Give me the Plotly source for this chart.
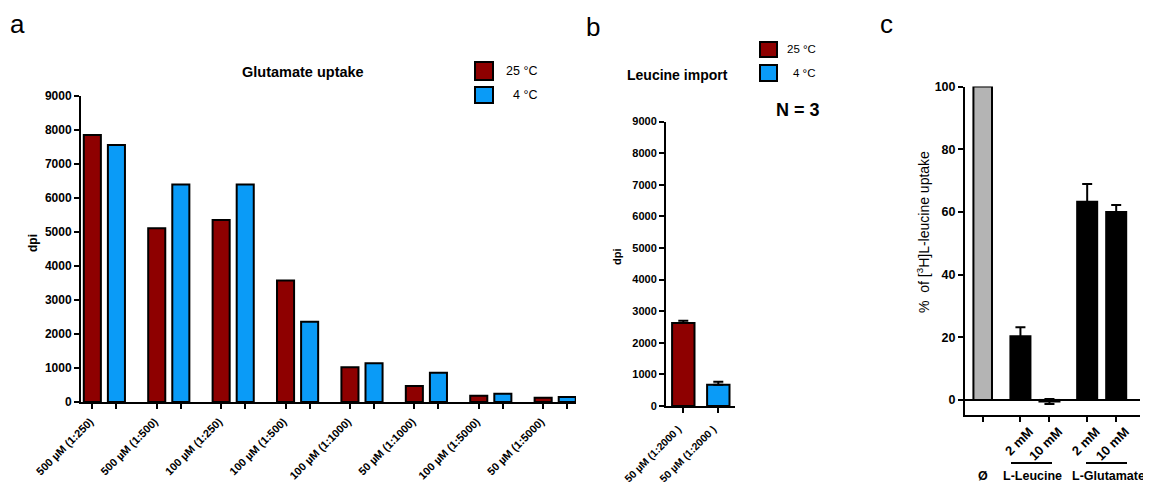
import plotly.graph_objects as go

# The page body has an 8 px margin, so the figure is drawn 8 px in from the window corner.
PAGE_OFF = 8
WIN_W, WIN_H = 1151, 483
W, H = WIN_W - PAGE_OFF, WIN_H - PAGE_OFF
FONT = "Liberation Sans, Arial, sans-serif"
RED = "#8E0000"
BLUE = "#0A9BF7"
GRAY = "#B4B4B4"
BLACK = "#000000"

# ---------------- data ----------------
# Panel a: Glutamate uptake
glu_categories = ["500 µM (1:250)", "500 µM (1:500)", "100 µM (1:250)", "100 µM (1:500)",
                  "100 µM (1:1000)", "50 µM (1:1000)", "100 µM (1:5000)", "50 µM (1:5000)"]
glu_25C = [7850, 5110, 5350, 3570, 1020, 470, 185, 126]
glu_4C = [7560, 6400, 6400, 2360, 1140, 860, 245, 147]

# Panel b: Leucine import
leu_labels = ["50 µM (1:2000 )", "50 µM (1:2000 )"]
leu_values = [2630, 670]
leu_errors = [70, 100]

# Panel c: % of [3H]L-leucine uptake
c_groups = ["Ø", "L-Leucine", "L-Leucine", "L-Glutamate", "L-Glutamate"]
c_ticklabels = ["", "2 mM", "10 mM", "2 mM", "10 mM"]
c_values = [100, 20.3, -0.5, 63.2, 60.0]
c_errors = [0, 2.9, 0.8, 5.7, 2.2]

legend_labels = ["25 °C", "4 °C"]

# ---------------- layout helpers (window pixel -> paper) ----------------
def px_x(x):
    return (x - PAGE_OFF) / W

def px_y(y):
    return 1 - (y - PAGE_OFF) / H

def ann(text, x, y, size, bold=False, angle=0, xanchor="center", yanchor="middle"):
    return dict(text=text, x=px_x(x), y=px_y(y), xref="paper", yref="paper",
                showarrow=False, textangle=angle, xanchor=xanchor, yanchor=yanchor,
                borderpad=0,
                font=dict(family=FONT, size=size, color="black",
                          weight="bold" if bold else "normal"))

def box(x0, y0, x1, y1, color):
    return dict(type="rect", xref="paper", yref="paper",
                x0=px_x(x0), x1=px_x(x1), y0=px_y(y1), y1=px_y(y0),
                fillcolor=color, line=dict(color=BLACK, width=2))

def hline(x0, x1, y):
    return dict(type="line", xref="paper", yref="paper",
                x0=px_x(x0), x1=px_x(x1), y0=px_y(y), y1=px_y(y),
                line=dict(color=BLACK, width=2))

axis_common = dict(showline=True, linecolor=BLACK, linewidth=2, ticks="outside",
                   ticklen=5, tickwidth=2, tickcolor=BLACK, showgrid=False,
                   zeroline=False, fixedrange=True, automargin=False)

def minor_ticks(vals):
    return dict(tickmode="array", tickvals=vals, ticks="outside", ticklen=5,
                tickwidth=2, tickcolor=BLACK, showgrid=False)

fig = go.Figure()

# ---------------- panel a ----------------
pair_off = 0.187
bar_w_a = 0.265
xa_red = [i - pair_off for i in range(len(glu_categories))]
xa_blue = [i + pair_off for i in range(len(glu_categories))]
fig.add_trace(go.Bar(x=xa_red, y=glu_25C, width=bar_w_a, marker=dict(color=RED, line=dict(color=BLACK, width=2)),
                     xaxis="x", yaxis="y", showlegend=False))
fig.add_trace(go.Bar(x=xa_blue, y=glu_4C, width=bar_w_a, marker=dict(color=BLUE, line=dict(color=BLACK, width=2)),
                     xaxis="x", yaxis="y", showlegend=False))

# ---------------- panel b ----------------
xb = list(range(len(leu_values)))
fig.add_trace(go.Bar(x=xb, y=leu_values, width=0.64,
                     marker=dict(color=[RED, BLUE], line=dict(color=BLACK, width=2)),
                     error_y=dict(type="data", array=leu_errors, arrayminus=[0] * len(leu_errors),
                                  symmetric=False, color=BLACK, thickness=2, width=5),
                     xaxis="x2", yaxis="y2", showlegend=False))

# ---------------- panel c ----------------
# positions: unit spacing within a group, extra gap between groups
group_gap = 0.3
xc = []
pos = 0.0
for i, g in enumerate(c_groups):
    if i > 0:
        pos += 1 + (group_gap if g != c_groups[i - 1] else 0)
    xc.append(pos)
fig.add_trace(go.Bar(x=xc[:1], y=c_values[:1], width=0.64,
                     marker=dict(color=GRAY, line=dict(color=BLACK, width=2)),
                     xaxis="x3", yaxis="y3", showlegend=False))
fig.add_trace(go.Bar(x=xc[1:], y=c_values[1:], width=0.69,
                     marker=dict(color=BLACK, line=dict(color=BLACK, width=2)),
                     error_y=dict(type="data", array=c_errors[1:], color=BLACK, thickness=2, width=5),
                     xaxis="x3", yaxis="y3", showlegend=False))

fig.update_layout(
    width=W, height=H, margin=dict(l=0, r=0, t=0, b=0, autoexpand=False),
    paper_bgcolor="white", plot_bgcolor="white", barmode="overlay",
    font=dict(family=FONT, color="black"),
    xaxis=dict(axis_common, domain=[px_x(81), px_x(576)], range=[-0.363, 7.323],
               tickmode="array", tickvals=xa_red, ticktext=glu_categories, tickangle=-45,
               minor=minor_ticks(xa_blue), ticklabelshift=-2, ticklabelstandoff=2,
               tickfont=dict(family=FONT, size=11, weight="bold"), anchor="y"),
    yaxis=dict(axis_common, domain=[px_y(402), px_y(96)], range=[0, 9000], dtick=1000,
               tickfont=dict(family=FONT, size=12, weight="bold"), anchor="x"),
    xaxis2=dict(axis_common, domain=[px_x(666), px_x(735)], range=[-0.494, 1.477],
                tickmode="array", tickvals=xb, ticktext=leu_labels, tickangle=-45,
                ticklabelshift=-5, ticklabelstandoff=6,
                tickfont=dict(family=FONT, size=10.5, weight="bold"), anchor="y2"),
    yaxis2=dict(axis_common, domain=[px_y(406), px_y(121.6)], range=[0, 9000], dtick=1000,
                tickfont=dict(family=FONT, size=11, weight="bold"), anchor="x2"),
    xaxis3=dict(axis_common, domain=[px_x(965), px_x(1140)], range=[-0.61, 5.42],
                tickmode="array", tickvals=xc[1:], ticktext=c_ticklabels[1:], tickangle=-45,
                minor=minor_ticks(xc[:1]), ticklabelshift=9, ticklabelstandoff=-3,
                tickfont=dict(family=FONT, size=13, weight="bold"), anchor="y3"),
    yaxis3=dict(axis_common, domain=[px_y(415), px_y(86.5)], range=[-4.8, 100],
                tickmode="array", tickvals=[0, 20, 40, 60, 80, 100],
                zeroline=True, zerolinecolor=BLACK, zerolinewidth=2,
                tickfont=dict(family=FONT, size=12.5, weight="bold"), anchor="x3"),
)

annotations = [
    ann("a", 17, 8, 26, yanchor="top"),
    ann("b", 593, 11, 26, yanchor="top"),
    ann("c", 886, 8, 26, yanchor="top"),
    ann("Glutamate uptake", 303, 72, 14.5, bold=True),
    ann("Leucine import", 678, 75, 14, bold=True),
    ann("N = 3", 798, 110, 18, bold=True),
    ann(legend_labels[0], 538, 71, 12.5, xanchor="right"),
    ann(legend_labels[1], 538, 95, 12.5, xanchor="right"),
    ann(legend_labels[0], 817, 49, 11.5, xanchor="right"),
    ann(legend_labels[1], 817, 73, 11.5, xanchor="right"),
    ann("dpi", 33, 243, 12, bold=True, angle=-90),
    ann("dpi", 617, 257, 11, bold=True, angle=-90),
    ann("%\u00a0\u00a0of [<sup>3</sup>H]L-leucine uptake", 923, 232, 14, angle=-90),
    ann(c_groups[0], 983, 476, 12.5, bold=True),
    ann(c_groups[1], 1032, 476, 12.5, bold=True),
    ann(c_groups[3], 1108, 476, 12.5, bold=True),
]
shapes = [
    box(475, 62, 493, 80, RED),
    box(475, 87, 493, 103, BLUE),
    box(760, 42, 777, 57, RED),
    box(760, 65, 777, 81, BLUE),
    hline(1011, 1052, 463),
    hline(1086, 1127, 463),
]
fig.update_layout(annotations=annotations, shapes=shapes)

fig.write_html("out.html")
